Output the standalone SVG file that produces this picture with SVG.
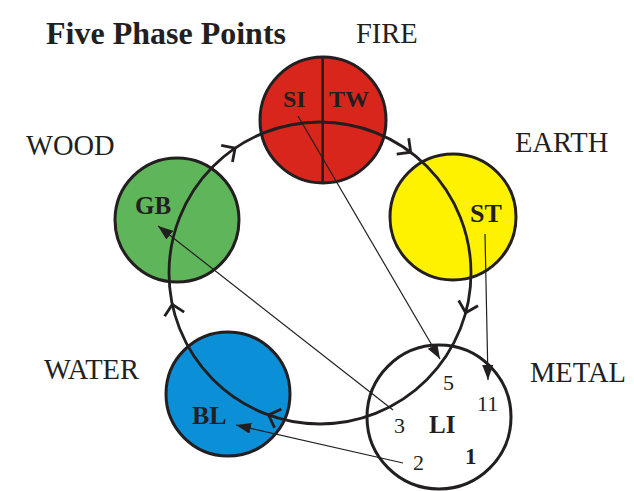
<svg xmlns="http://www.w3.org/2000/svg" width="634" height="491" viewBox="0 0 634 491">
<style>
.ph{stroke:#231f20;stroke-width:3}
.cyc{fill:none;stroke:#231f20;stroke-width:2.8}
.chev{fill:none;stroke:#231f20;stroke-width:2.8;stroke-linejoin:miter}
.ln{fill:none;stroke:#231f20;stroke-width:1.2}
text{font-family:"Liberation Serif","Times New Roman",serif;fill:#231f20}
.lab{font-size:28.5px}
.b{font-weight:bold;font-size:25px}
.n{font-size:22px}
</style>
<defs>
<marker id="ah" markerWidth="15" markerHeight="11" refX="15" refY="5.5" orient="auto" markerUnits="userSpaceOnUse"><path d="M0,0 L15,5.5 L0,11 z" fill="#231f20"/></marker>
<path id="chev" d="M-10,-10 L0,0 L-10,10"/>
</defs>
<text x="46" y="44" style="font-weight:bold;font-size:32px">Five Phase Points</text>
<g id="fire">
<circle class="ph" cx="323" cy="120" r="63" fill="#d9261c"/>
<line x1="322.7" y1="57" x2="322.7" y2="183" stroke="#231f20" stroke-width="2.5"/>
<text class="lab" x="356" y="43">FIRE</text>
</g>
<g id="earth">
<circle class="ph" cx="453" cy="217" r="63" fill="#fff200"/>
<text class="lab" x="515" y="152">EARTH</text>
</g>
<g id="wood">
<circle class="ph" cx="177" cy="220" r="62" fill="#5fb55a"/>
<text class="lab" x="26" y="155">WOOD</text>
</g>
<g id="water">
<circle class="ph" cx="228" cy="394" r="62" fill="#0b8fd6"/>
<text class="lab" x="44" y="379">WATER</text>
</g>
<g id="metal">
<circle class="ph" cx="439" cy="417" r="72" fill="#ffffff"/>
<text class="lab" x="530" y="382">METAL</text>
</g>
<g id="connectors">
<circle class="cyc" cx="320" cy="273" r="151"/>
<use href="#chev" class="chev" transform="translate(235.1,148.1) rotate(-34.2)"/>
<use href="#chev" class="chev" transform="translate(410.7,152.2) rotate(36.9)"/>
<use href="#chev" class="chev" transform="translate(465.7,312.8) rotate(105.3)"/>
<use href="#chev" class="chev" transform="translate(268.6,415) rotate(199.9)"/>
<use href="#chev" class="chev" transform="translate(172.3,304.4) rotate(258)"/>
<line class="ln" x1="298" y1="116" x2="440" y2="359" marker-end="url(#ah)"/>
<line class="ln" x1="485" y1="234" x2="488" y2="380" marker-end="url(#ah)"/>
<line class="ln" x1="393" y1="410" x2="158" y2="226" marker-end="url(#ah)"/>
<line class="ln" x1="403" y1="463" x2="236" y2="425" marker-end="url(#ah)"/>
</g>
<g id="labels">
<text class="b" x="283" y="107" style="font-size:24px">SI</text>
<text class="b" x="329" y="107" style="font-size:24px">TW</text>
<text class="b" x="470" y="222" style="font-size:26px">ST</text>
<text class="b" x="135" y="214">GB</text>
<text class="b" x="192" y="424" style="font-size:26px">BL</text>
<text class="b" x="429" y="433">LI</text>
<text class="n" x="443" y="390">5</text>
<text class="n" x="477" y="411">11</text>
<text class="n" x="394" y="433">3</text>
<text class="n" x="413" y="470">2</text>
<text class="b" x="465" y="464" style="font-size:23px">1</text>
</g>
</svg>
